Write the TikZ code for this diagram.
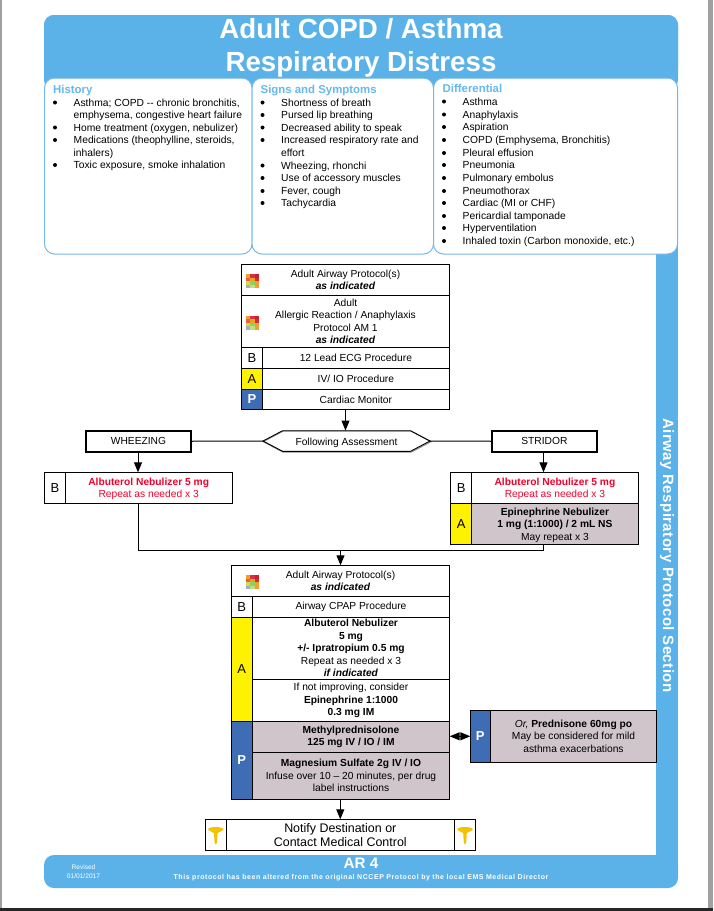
\documentclass[tikz,border=0pt]{standalone}
\usepackage{fontspec}
\setmainfont{Liberation Sans}
\usetikzlibrary{arrows.meta,calc,shapes.misc}
\definecolor{bandblue}{HTML}{5BB2E8}
\definecolor{headblue}{HTML}{66B8EE}
\definecolor{edgeblue}{HTML}{74B9EA}
\definecolor{pblue}{HTML}{3F6DB5}
\definecolor{drug}{HTML}{D0C5CA}
\definecolor{alsred}{HTML}{F4002A}
\definecolor{frame}{HTML}{A0A0A0}
\definecolor{cadu}{HTML}{F2C200}
\definecolor{gra}{HTML}{F0A030}\definecolor{grb}{HTML}{D83040}\definecolor{grc}{HTML}{C82030}
\definecolor{grd}{HTML}{E86040}\definecolor{gre}{HTML}{F0A020}\definecolor{grf}{HTML}{D03030}
\definecolor{grg}{HTML}{D8D840}\definecolor{grh}{HTML}{90D060}\definecolor{gri}{HTML}{F0A030}
\definecolor{grj}{HTML}{A0B0C8}\definecolor{grk}{HTML}{C0E080}\definecolor{grl}{HTML}{F0A030}
\tikzset{
  x=1pt,y=-1pt,
  cellbox/.style={draw=black,line width=1pt,inner sep=0pt,outer sep=0pt,align=center,text=black,font=\fontsize{10.25}{12.5}\selectfont},
  lvl/.style={cellbox,font=\fontsize{13}{14}\selectfont},
  lvlP/.style={lvl,fill=pblue,text=white,font=\fontsize{13}{14}\selectfont\bfseries},
  lvlA/.style={lvl,fill=yellow},
  thickbox/.style={cellbox,line width=2pt},
  flow/.style={draw=black,line width=1pt,-{Triangle[length=10pt,width=8pt]}},
  plain/.style={draw=black,line width=1pt},
  column/.style={draw=edgeblue,line width=1pt,fill=white,rounded corners=10pt},
  head/.style={text=headblue,font=\fontsize{11.4}{12}\selectfont\bfseries,anchor=base west,inner sep=0pt},
  item/.style={text=black,font=\fontsize{10.3}{12.6}\selectfont,anchor=base west,inner sep=0pt},
  dot/.style={circle,fill=black,inner sep=0pt,minimum size=4pt},
}
% \cell{name}{x1}{y1}{x2}{y2}{style}{text}
\newcommand{\cell}[7]{%
  \pgfmathsetmacro{\cw}{#4-#2}\pgfmathsetmacro{\ch}{#5-#3}%
  \pgfmathsetmacro{\cx}{(#2+#4)/2}\pgfmathsetmacro{\cy}{(#3+#5)/2}%
  \node[cellbox,#6,minimum width=\cw pt,minimum height=\ch pt] (#1) at (\cx,\cy) {#7};}
% \bul{name}{x}{y}{text}
\newcommand{\bul}[4]{%
  \node[dot] (#1d) at (#2,#3-3.5) {};
  \node[item] (#1) at (#2+18.5,#3) {#4};}
% colour-grid protocol icon, 13 x 14 px
\newcommand{\gridicon}[2]{%
  \begin{scope}[shift={(#1,#2)}]
  \foreach \ix/\iy/\ic in {0/0/gra,1/0/grb,2/0/grc,0/1/grd,1/1/gre,2/1/grf,
    0/2/grg,1/2/grh,2/2/gri,0/3/grj,1/3/grk,2/3/grl}{
    \fill[\ic] (\ix*4.33,\iy*3.5) rectangle ++(4.33,3.5);}
  \end{scope}}
% yellow caduceus-like icon
\newcommand{\caduicon}[2]{%
  \begin{scope}[shift={(#1,#2)}]
  \fill[cadu] (-7.5,-6.5) .. controls (-5,-8.5) and (5,-8.5) .. (7.5,-6.5)
     -- (7.5,-5) .. controls (5.5,-3.2) and (3,-3.2) .. (1.8,-2) -- (1.2,7.5) -- (0,9.5) -- (-1.2,7.5) -- (-1.8,-2)
     .. controls (-3,-3.2) and (-5.5,-3.2) .. (-7.5,-5) -- cycle;
  \end{scope}}
\begin{document}
\begin{tikzpicture}
\useasboundingbox (0,0) rectangle (713,911);
\fill[white] (0,0) rectangle (713,911);
% window edges
\fill[frame] (0,0) rectangle (2,911);
\fill[frame] (708,0) rectangle (713,911);
\fill[black!85] (0,908) rectangle (713,911);
% bands
\fill[bandblue] (656,240) rectangle (678,870);
\fill[bandblue,rounded corners=10pt] (44,855) rectangle (678,888);
\fill[bandblue,rounded corners=10pt] (44,15) rectangle (678,90);
% columns
\draw[column] (44.5,78) rectangle (252,254);
\draw[column] (252,78) rectangle (433.5,254);
\draw[column] (433.5,78) rectangle (677.5,254);
\fill[bandblue,rounded corners=10pt] (44,15) rectangle (678,78);
% title
\node[text=white,font=\fontsize{27.7}{33}\selectfont\bfseries,align=center,inner sep=0pt] (title) at (361,47.5) {Adult COPD / Asthma\\Respiratory Distress};
% History
\node[head] (h1) at (53,93) {History};
\bul{ha}{55}{106}{Asthma; COPD -{}- chronic bronchitis,}
\node[item] (ha2) at (73.5,118.5) {emphysema, congestive heart failure};
\bul{hb}{55}{131}{Home treatment (oxygen, nebulizer)}
\bul{hc}{55}{143.5}{Medications (theophylline, steroids,}
\node[item] (hc2) at (73.5,156.5) {inhalers)};
\bul{hd}{55}{168.5}{Toxic exposure, smoke inhalation}
% Signs
\node[head] (s1) at (260.5,93) {Signs and Symptoms};
\bul{sa}{262.5}{106}{Shortness of breath}
\bul{sb}{262.5}{118.5}{Pursed lip breathing}
\bul{sc}{262.5}{131}{Decreased ability to speak}
\bul{sd}{262.5}{143.5}{Increased respiratory rate and}
\node[item] (sd2) at (281,156.5) {effort};
\bul{se}{262.5}{169}{Wheezing, rhonchi}
\bul{sf}{262.5}{181.5}{Use of accessory muscles}
\bul{sg}{262.5}{194.5}{Fever, cough}
\bul{sh}{262.5}{206.5}{Tachycardia}
% Differential
\node[head] (d1) at (442.5,92) {Differential};
\bul{da}{444}{105}{Asthma}
\bul{db}{444}{118}{Anaphylaxis}
\bul{dc}{444}{130.5}{Aspiration}
\bul{dd}{444}{143.5}{COPD (Emphysema, Bronchitis)}
\bul{de}{444}{156.5}{Pleural effusion}
\bul{df}{444}{168.5}{Pneumonia}
\bul{dg}{444}{181.5}{Pulmonary embolus}
\bul{dh}{444}{194.5}{Pneumothorax}
\bul{di}{444}{206.5}{Cardiac (MI or CHF)}
\bul{dj}{444}{219.5}{Pericardial tamponade}
\bul{dk}{444}{231.5}{Hyperventilation}
\bul{dl}{444}{244.5}{Inhaled toxin (Carbon monoxide, etc.)}
% Upper protocol box
\cell{p1}{241.5}{264.7}{449.5}{295.3}{}{Adult Airway Protocol(s)\\\textbf{\textit{as indicated}}}
\cell{p2}{241.5}{295.3}{449.5}{347.3}{}{Adult\\Allergic Reaction / Anaphylaxis\\Protocol AM 1\\\textbf{\textit{as indicated}}}
\cell{p3l}{241.5}{347.3}{262.3}{368.3}{lvl}{B}
\cell{p3}{262.3}{347.3}{449.5}{368.3}{}{12 Lead ECG Procedure}
\cell{p4l}{241.5}{368.3}{262.3}{389.3}{lvlA}{A}
\cell{p4}{262.3}{368.3}{449.5}{389.3}{}{IV/ IO Procedure}
\cell{p5l}{241.5}{389.3}{262.3}{409.5}{lvlP}{P}
\cell{p5}{262.3}{389.3}{449.5}{409.5}{}{Cardiac Monitor}
\gridicon{246}{274}
\gridicon{246}{315.5}
% decision row
\coordinate (hexT) at (345.5,430.5);
\path[draw=black!45,fill=white,line width=1pt] (263.3,441.7) -- (283,431.2) -- (411,431.2) -- (431,441.7) -- (411,452.2) -- (283,452.2) -- cycle;
\draw[black,line width=.9pt] (263,441) -- (282.6,430.7) -- (410.5,430.7) -- (430,441) -- (410.5,451.3) -- (282.6,451.3) -- cycle;
\node[font=\fontsize{10.25}{12}\selectfont,inner sep=0pt,minimum width=167pt,minimum height=21pt,text height=10.5pt,text depth=2pt] (hex) at (346.5,441) {Following Assessment};
\cell{wh}{86.1}{431}{190.9}{451.5}{thickbox}{WHEEZING}
\cell{st}{492}{431}{596.7}{451.5}{thickbox}{STRIDOR}
\draw[plain] (wh.east) -- (hex.west);
\draw[plain] (hex.east) -- (st.west);
\draw[flow] (p5.south-|hexT) -- (hexT);
% branches
\cell{lb}{44.5}{472.3}{65.3}{503.3}{lvl}{B}
\cell{lt}{65.3}{472.3}{232}{503.3}{text=alsred}{\mbox{}\\[-3pt]\textbf{Albuterol Nebulizer 5 mg}\\Repeat as needed x 3}
\cell{rb}{450.8}{472.3}{471.6}{503.3}{lvl}{B}
\cell{rt}{471.6}{472.3}{638.3}{503.3}{text=alsred}{\mbox{}\\[-3pt]\textbf{Albuterol Nebulizer 5 mg}\\Repeat as needed x 3}
\cell{ra}{450.8}{503.3}{471.6}{544.3}{lvlA}{A}
\cell{re}{471.6}{503.3}{638.3}{544.3}{fill=drug}{\mbox{}\\[-2pt]\textbf{Epinephrine Nebulizer}\\\textbf{1 mg (1:1000) / 2 mL NS}\\May repeat x 3}
\coordinate (wa) at (138,451.5);
\coordinate (sa) at (543.5,451.5);
\coordinate (ltb) at (138,503.3);
\coordinate (reb) at (543.5,544.3);
\coordinate (mg) at (340.5,550.3);
\coordinate (q1t) at (340.5,565.3);
\draw[flow] (wa) -- (138,472.3);
\draw[flow] (sa) -- (543.5,472.3);
\draw[plain] (ltb) |- (mg) -| (reb);
\draw[flow] (mg) -- (q1t);
% Lower protocol box
\cell{q1}{231.3}{565.3}{449.7}{596.3}{}{Adult Airway Protocol(s)\\\textbf{\textit{as indicated}}}
\cell{q2l}{231.3}{596.3}{252.3}{617.3}{lvl}{B}
\cell{q2}{252.3}{596.3}{449.7}{617.3}{}{Airway CPAP Procedure}
\cell{q3l}{231.3}{617.3}{252.3}{721.5}{lvlA}{A}
\cell{q3}{252.3}{617.3}{449.7}{679.3}{}{\textbf{Albuterol Nebulizer}\\\textbf{5 mg}\\\textbf{+/- Ipratropium 0.5 mg}\\Repeat as needed x 3\\\textbf{\textit{if indicated}}}
\cell{q4}{252.3}{679.3}{449.7}{721.5}{}{If not improving, consider\\\textbf{Epinephrine 1:1000}\\\textbf{0.3 mg IM}}
\cell{q5l}{231.3}{721.5}{252.3}{799.3}{lvlP}{P}
\cell{q5}{252.3}{721.5}{449.7}{752.3}{fill=drug}{\textbf{Methylprednisolone}\\\textbf{125 mg IV / IO / IM}}
\cell{q6}{252.3}{752.3}{449.7}{799.3}{fill=drug}{\textbf{Magnesium Sulfate 2g IV / IO}\\Infuse over 10 – 20 minutes, per drug\\label instructions}
\cell{o1}{470.3}{710.3}{490.3}{762.3}{lvlP}{P}
\cell{o2}{490.3}{710.3}{656.7}{762.3}{fill=drug}{\textit{Or,} \textbf{Prednisone 60mg po}\\May be considered for mild\\asthma exacerbations}
\gridicon{246}{575}
\draw[plain,{Triangle[length=10pt,width=8pt]}-{Triangle[length=10pt,width=8pt]}] (q5.east|-o1.west) -- (o1.west);
% Notify
\cell{n1}{205.3}{819.3}{226.3}{850.3}{}{}
\cell{n2}{226.3}{819.3}{454.3}{850.3}{font=\fontsize{12.45}{14}\selectfont}{Notify Destination or\\Contact Medical Control}
\cell{n3}{454.3}{819.3}{475.7}{850.3}{}{}
\caduicon{215.8}{835}
\caduicon{465}{835}
\draw[flow] (q6.south-|n2.north) -- (n2.north);
% side text
\node[rotate=-90,text=white,font=\fontsize{15}{15}\selectfont\bfseries\addfontfeature{LetterSpace=3},inner sep=0pt] (side) at (667,555.5) {Airway Respiratory Protocol Section};
% footer
\node[text=white,font=\fontsize{15.2}{16}\selectfont\bfseries,inner sep=0pt] (ar) at (361,863.5) {AR 4};
\node[text=white,font=\fontsize{7}{8}\selectfont\bfseries\addfontfeature{LetterSpace=8},inner sep=0pt] (alt) at (361,877.5) {This protocol has been altered from the original NCCEP Protocol by the local EMS Medical Director};
\node[text=white,font=\fontsize{6.6}{9.5}\selectfont,align=center,inner sep=0pt] (rev) at (83.5,871.5) {Revised\\01/01/2017};
\end{tikzpicture}
\end{document}
